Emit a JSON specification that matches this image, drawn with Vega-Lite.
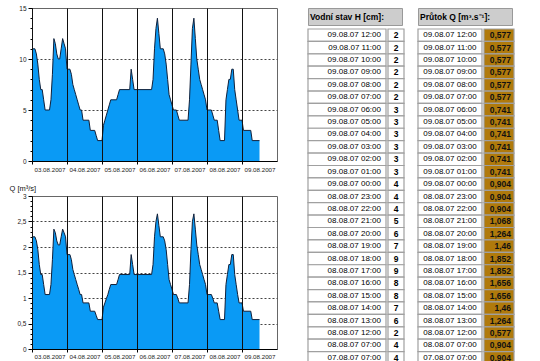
{
"$schema": "https://vega.github.io/schema/vega-lite/v6.json",
"background": "white",
"padding": {"left": 8, "top": 4, "right": 0, "bottom": 0},
"config": {
  "font": "Liberation Sans",
  "view": {"stroke": null},
  "locale": {"number": {"decimal": ",", "thousands": " ", "grouping": [3], "currency": ["", " Kč"]}},
  "axis": {"labelFont": "Liberation Sans", "labelFontSize": 7, "labelColor": "#222", "domainColor": "#000", "tickColor": "#000"}
},
"datasets": {
  "series": [
    {"d": "2007-08-03T00:00", "h": 11, "q": 2.2},
    {"d": "2007-08-03T02:00", "h": 11, "q": 2.2},
    {"d": "2007-08-03T03:00", "h": 10.5, "q": 2.12},
    {"d": "2007-08-03T04:00", "h": 9.5, "q": 1.95},
    {"d": "2007-08-03T05:00", "h": 8, "q": 1.656},
    {"d": "2007-08-03T06:00", "h": 7, "q": 1.46},
    {"d": "2007-08-03T07:00", "h": 7, "q": 1.46},
    {"d": "2007-08-03T08:00", "h": 6, "q": 1.264},
    {"d": "2007-08-03T09:00", "h": 5, "q": 1.068},
    {"d": "2007-08-03T12:00", "h": 5, "q": 1.068},
    {"d": "2007-08-03T13:00", "h": 6, "q": 1.264},
    {"d": "2007-08-03T14:00", "h": 8.5, "q": 1.75},
    {"d": "2007-08-03T15:00", "h": 12, "q": 2.35},
    {"d": "2007-08-03T16:00", "h": 11.5, "q": 2.28},
    {"d": "2007-08-03T17:00", "h": 10.5, "q": 2.12},
    {"d": "2007-08-03T18:00", "h": 10, "q": 2.04},
    {"d": "2007-08-03T19:00", "h": 10, "q": 2.04},
    {"d": "2007-08-03T20:00", "h": 11, "q": 2.2},
    {"d": "2007-08-03T21:00", "h": 12, "q": 2.35},
    {"d": "2007-08-03T22:00", "h": 11.5, "q": 2.28},
    {"d": "2007-08-03T23:00", "h": 11, "q": 2.2},
    {"d": "2007-08-04T00:00", "h": 9, "q": 1.852},
    {"d": "2007-08-04T02:00", "h": 9, "q": 1.852},
    {"d": "2007-08-04T03:00", "h": 8.5, "q": 1.75},
    {"d": "2007-08-04T04:00", "h": 7.5, "q": 1.56},
    {"d": "2007-08-04T05:00", "h": 7, "q": 1.46},
    {"d": "2007-08-04T06:00", "h": 6.5, "q": 1.36},
    {"d": "2007-08-04T07:00", "h": 6, "q": 1.264},
    {"d": "2007-08-04T08:00", "h": 5.5, "q": 1.17},
    {"d": "2007-08-04T09:00", "h": 5, "q": 1.068},
    {"d": "2007-08-04T10:00", "h": 5, "q": 1.068},
    {"d": "2007-08-04T11:00", "h": 4, "q": 0.904},
    {"d": "2007-08-04T15:00", "h": 4, "q": 0.904},
    {"d": "2007-08-04T16:00", "h": 3, "q": 0.741},
    {"d": "2007-08-04T19:00", "h": 3, "q": 0.741},
    {"d": "2007-08-04T20:00", "h": 2.5, "q": 0.66},
    {"d": "2007-08-04T21:00", "h": 2, "q": 0.577},
    {"d": "2007-08-05T00:00", "h": 2, "q": 0.577},
    {"d": "2007-08-05T01:00", "h": 3.5, "q": 0.82},
    {"d": "2007-08-05T02:00", "h": 4, "q": 0.904},
    {"d": "2007-08-05T03:00", "h": 4.5, "q": 0.99},
    {"d": "2007-08-05T04:00", "h": 5, "q": 1.068},
    {"d": "2007-08-05T05:00", "h": 5.5, "q": 1.17},
    {"d": "2007-08-05T06:00", "h": 6, "q": 1.264},
    {"d": "2007-08-05T10:00", "h": 6, "q": 1.264},
    {"d": "2007-08-05T11:00", "h": 6.5, "q": 1.36},
    {"d": "2007-08-05T12:00", "h": 7, "q": 1.46},
    {"d": "2007-08-05T19:00", "h": 7, "q": 1.46},
    {"d": "2007-08-05T20:00", "h": 9, "q": 1.852},
    {"d": "2007-08-05T21:00", "h": 8, "q": 1.656},
    {"d": "2007-08-05T22:00", "h": 7, "q": 1.46},
    {"d": "2007-08-06T10:00", "h": 7, "q": 1.46},
    {"d": "2007-08-06T11:00", "h": 8, "q": 1.656},
    {"d": "2007-08-06T12:00", "h": 11, "q": 2.2},
    {"d": "2007-08-06T13:00", "h": 13, "q": 2.5},
    {"d": "2007-08-06T14:00", "h": 14, "q": 2.65},
    {"d": "2007-08-06T15:00", "h": 12.5, "q": 2.42},
    {"d": "2007-08-06T16:00", "h": 11, "q": 2.2},
    {"d": "2007-08-06T18:00", "h": 11, "q": 2.2},
    {"d": "2007-08-06T19:00", "h": 10.5, "q": 2.12},
    {"d": "2007-08-06T20:00", "h": 9.5, "q": 1.95},
    {"d": "2007-08-06T21:00", "h": 8, "q": 1.656},
    {"d": "2007-08-06T22:00", "h": 6.5, "q": 1.36},
    {"d": "2007-08-06T23:00", "h": 6, "q": 1.264},
    {"d": "2007-08-07T00:00", "h": 5.5, "q": 1.17},
    {"d": "2007-08-07T01:00", "h": 5, "q": 1.068},
    {"d": "2007-08-07T03:00", "h": 5, "q": 1.068},
    {"d": "2007-08-07T04:00", "h": 4.5, "q": 0.99},
    {"d": "2007-08-07T05:00", "h": 4, "q": 0.904},
    {"d": "2007-08-07T11:00", "h": 4, "q": 0.904},
    {"d": "2007-08-07T12:00", "h": 6, "q": 1.264},
    {"d": "2007-08-07T13:00", "h": 9.5, "q": 1.95},
    {"d": "2007-08-07T14:00", "h": 13, "q": 2.5},
    {"d": "2007-08-07T15:00", "h": 14, "q": 2.65},
    {"d": "2007-08-07T16:00", "h": 12, "q": 2.35},
    {"d": "2007-08-07T17:00", "h": 10, "q": 2.04},
    {"d": "2007-08-07T18:00", "h": 9, "q": 1.852},
    {"d": "2007-08-07T19:00", "h": 8, "q": 1.656},
    {"d": "2007-08-07T20:00", "h": 7.5, "q": 1.56},
    {"d": "2007-08-07T21:00", "h": 7, "q": 1.46},
    {"d": "2007-08-07T22:00", "h": 6.5, "q": 1.36},
    {"d": "2007-08-07T23:00", "h": 6, "q": 1.264},
    {"d": "2007-08-08T00:00", "h": 5, "q": 1.068},
    {"d": "2007-08-08T03:00", "h": 5, "q": 1.068},
    {"d": "2007-08-08T04:00", "h": 4.5, "q": 0.99},
    {"d": "2007-08-08T05:00", "h": 4, "q": 0.904},
    {"d": "2007-08-08T07:00", "h": 4, "q": 0.904},
    {"d": "2007-08-08T08:00", "h": 3, "q": 0.741},
    {"d": "2007-08-08T09:00", "h": 2, "q": 0.577},
    {"d": "2007-08-08T12:00", "h": 2, "q": 0.577},
    {"d": "2007-08-08T13:00", "h": 6, "q": 1.264},
    {"d": "2007-08-08T14:00", "h": 7, "q": 1.46},
    {"d": "2007-08-08T15:00", "h": 8, "q": 1.656},
    {"d": "2007-08-08T16:00", "h": 8, "q": 1.656},
    {"d": "2007-08-08T17:00", "h": 9, "q": 1.852},
    {"d": "2007-08-08T18:00", "h": 9, "q": 1.852},
    {"d": "2007-08-08T19:00", "h": 7, "q": 1.46},
    {"d": "2007-08-08T20:00", "h": 6, "q": 1.264},
    {"d": "2007-08-08T21:00", "h": 5, "q": 1.068},
    {"d": "2007-08-08T22:00", "h": 4, "q": 0.904},
    {"d": "2007-08-09T00:00", "h": 4, "q": 0.904},
    {"d": "2007-08-09T01:00", "h": 3, "q": 0.741},
    {"d": "2007-08-09T06:00", "h": 3, "q": 0.741},
    {"d": "2007-08-09T07:00", "h": 2, "q": 0.577},
    {"d": "2007-08-09T12:00", "h": 2, "q": 0.577}
  ],
  "tbl": [
    {"t": "09.08.07 12:00", "h": 2, "q": 0.577},
    {"t": "09.08.07 11:00", "h": 2, "q": 0.577},
    {"t": "09.08.07 10:00", "h": 2, "q": 0.577},
    {"t": "09.08.07 09:00", "h": 2, "q": 0.577},
    {"t": "09.08.07 08:00", "h": 2, "q": 0.577},
    {"t": "09.08.07 07:00", "h": 2, "q": 0.577},
    {"t": "09.08.07 06:00", "h": 3, "q": 0.741},
    {"t": "09.08.07 05:00", "h": 3, "q": 0.741},
    {"t": "09.08.07 04:00", "h": 3, "q": 0.741},
    {"t": "09.08.07 03:00", "h": 3, "q": 0.741},
    {"t": "09.08.07 02:00", "h": 3, "q": 0.741},
    {"t": "09.08.07 01:00", "h": 3, "q": 0.741},
    {"t": "09.08.07 00:00", "h": 4, "q": 0.904},
    {"t": "08.08.07 23:00", "h": 4, "q": 0.904},
    {"t": "08.08.07 22:00", "h": 4, "q": 0.904},
    {"t": "08.08.07 21:00", "h": 5, "q": 1.068},
    {"t": "08.08.07 20:00", "h": 6, "q": 1.264},
    {"t": "08.08.07 19:00", "h": 7, "q": 1.46},
    {"t": "08.08.07 18:00", "h": 9, "q": 1.852},
    {"t": "08.08.07 17:00", "h": 9, "q": 1.852},
    {"t": "08.08.07 16:00", "h": 8, "q": 1.656},
    {"t": "08.08.07 15:00", "h": 8, "q": 1.656},
    {"t": "08.08.07 14:00", "h": 7, "q": 1.46},
    {"t": "08.08.07 13:00", "h": 6, "q": 1.264},
    {"t": "08.08.07 12:00", "h": 2, "q": 0.577},
    {"t": "08.08.07 07:00", "h": 4, "q": 0.904},
    {"t": "07.08.07 07:00", "h": 4, "q": 0.904}
  ]
},
"hconcat": [
  {
    "vconcat": [
      {
        "width": 245, "height": 153,
        "data": {"name": "series"},
        "view": {"stroke": "#666"},
        "mark": {"type": "area", "color": "#0a9af5", "opacity": 1, "line": {"color": "#10203a", "strokeWidth": 1}},
        "encoding": {
          "x": {"field": "d", "type": "temporal",
            "scale": {"domain": [{"year": 2007, "month": 8, "date": 3}, {"year": 2007, "month": 8, "date": 10}]},
            "axis": {"title": null, "values": [{"year": 2007, "month": 8, "date": 3}, {"year": 2007, "month": 8, "date": 4}, {"year": 2007, "month": 8, "date": 5}, {"year": 2007, "month": 8, "date": 6}, {"year": 2007, "month": 8, "date": 7}, {"year": 2007, "month": 8, "date": 8}, {"year": 2007, "month": 8, "date": 9}],
              "format": "%d.%m.%Y", "labelFontSize": 6.2, "labelOffset": 17.5, "tickSize": 3, "labelPadding": 2, "grid": true, "gridColor": "#111", "gridWidth": 1, "zindex": 1, "labelOverlap": false, "labelFlush": false}},
          "y": {"field": "h", "type": "quantitative",
            "scale": {"domain": [0, 15], "nice": false},
            "axis": {"title": null, "values": [0,1,2,3,4,5,6,7,8,9,10,11,12,13,14,15],
              "labelExpr": "datum.value % 5 === 0 ? datum.label : ''",
              "tickSize": {"condition": {"test": "datum.value % 5 === 0", "value": 4}, "value": 2},
              "labelPadding": 2, "labelFontSize": 6.5, "grid": true, "gridDash": [2, 2], "gridColor": "#444",
              "gridOpacity": {"condition": {"test": "datum.value % 5 === 0 && datum.value > 0 && datum.value < 15", "value": 1}, "value": 0}}}
        }
      },
      {
        "width": 245, "height": 153,
        "data": {"name": "series"},
        "view": {"stroke": "#666"},
        "mark": {"type": "area", "color": "#0a9af5", "opacity": 1, "line": {"color": "#10203a", "strokeWidth": 1}},
        "encoding": {
          "x": {"field": "d", "type": "temporal",
            "scale": {"domain": [{"year": 2007, "month": 8, "date": 3}, {"year": 2007, "month": 8, "date": 10}]},
            "axis": {"title": null, "values": [{"year": 2007, "month": 8, "date": 3}, {"year": 2007, "month": 8, "date": 4}, {"year": 2007, "month": 8, "date": 5}, {"year": 2007, "month": 8, "date": 6}, {"year": 2007, "month": 8, "date": 7}, {"year": 2007, "month": 8, "date": 8}, {"year": 2007, "month": 8, "date": 9}],
              "format": "%d.%m.%Y", "labelFontSize": 6.2, "labelOffset": 17.5, "tickSize": 3, "labelPadding": 1, "grid": true, "gridColor": "#111", "gridWidth": 1, "zindex": 1, "labelOverlap": false, "labelFlush": false}},
          "y": {"field": "q", "type": "quantitative",
            "scale": {"domain": [0, 3], "nice": false},
            "axis": {"title": "Q [m³/s]", "titleAngle": 0, "titleAlign": "left", "titleBaseline": "bottom", "titleX": -23, "titleY": -4, "titleFontSize": 7.5, "titleFontWeight": "normal", "titleColor": "#111",
              "values": [0,0.1,0.2,0.3,0.4,0.5,0.6,0.7,0.8,0.9,1,1.1,1.2,1.3,1.4,1.5,1.6,1.7,1.8,1.9,2,2.1,2.2,2.3,2.4,2.5,2.6,2.7,2.8,2.9,3],
              "format": ".1~f", "labelFontSize": 6.5,
              "labelExpr": "abs(datum.value*2 - round(datum.value*2)) < 0.001 ? datum.label : ''",
              "tickSize": {"condition": {"test": "abs(datum.value*2 - round(datum.value*2)) < 0.001", "value": 4}, "value": 2},
              "labelPadding": 2, "grid": true, "gridDash": [2, 2], "gridColor": "#444",
              "gridOpacity": {"condition": {"test": "abs(datum.value*2 - round(datum.value*2)) < 0.001 && datum.value > 0.1 && datum.value < 2.9", "value": 1}, "value": 0}}}
        }
      }
    ],
    "spacing": 10
  },
  {
    "hconcat": [
      {
        "vconcat": [
          {
            "width": 94, "height": 17,
            "view": {"fill": "#cdcdcd", "stroke": "#999"},
            "data": {"values": [{"h": "Vodní stav H [cm]:"}]},
            "mark": {"type": "text", "align": "left", "dx": -45, "fontWeight": "bold", "fontSize": 8.5, "color": "#000"},
            "encoding": {"text": {"field": "h"}}
          },
          {
            "hconcat": [
              {
                "width": 78, "height": 335,
                "data": {"name": "tbl"},
                "encoding": {"y": {"field": "t", "type": "ordinal", "sort": null, "axis": null, "scale": {"paddingInner": 0, "paddingOuter": 0}}},
                "layer": [
                  {"mark": {"type": "rect", "fill": "white", "stroke": "#a0a0a0", "strokeWidth": 1.2}},
                  {"mark": {"type": "text", "align": "right", "dx": 34, "fontSize": 8, "color": "#000"}, "encoding": {"text": {"field": "t"}}}
                ]
              },
              {
                "width": 16, "height": 335,
                "data": {"name": "tbl"},
                "encoding": {"y": {"field": "t", "type": "ordinal", "sort": null, "axis": null, "scale": {"paddingInner": 0, "paddingOuter": 0}}},
                "layer": [
                  {"mark": {"type": "rect", "fill": "white", "stroke": "#a0a0a0", "strokeWidth": 1.2}},
                  {"mark": {"type": "text", "align": "center", "fontSize": 8.5, "fontWeight": "bold", "color": "#000"}, "encoding": {"text": {"field": "h"}}}
                ]
              }
            ],
            "spacing": 0
          }
        ],
        "spacing": 2
      },
      {
        "vconcat": [
          {
            "width": 94, "height": 17,
            "view": {"fill": "#cdcdcd", "stroke": "#999"},
            "data": {"values": [{"h": "Průtok Q [m³.s⁻¹]:"}]},
            "mark": {"type": "text", "align": "left", "dx": -45, "fontWeight": "bold", "fontSize": 8.5, "color": "#000"},
            "encoding": {"text": {"field": "h"}}
          },
          {
            "hconcat": [
              {
                "width": 64, "height": 335,
                "data": {"name": "tbl"},
                "encoding": {"y": {"field": "t", "type": "ordinal", "sort": null, "axis": null, "scale": {"paddingInner": 0, "paddingOuter": 0}}},
                "layer": [
                  {"mark": {"type": "rect", "fill": "white", "stroke": "#a0a0a0", "strokeWidth": 1.2}},
                  {"mark": {"type": "text", "align": "center", "fontSize": 8, "color": "#000"}, "encoding": {"text": {"field": "t"}}}
                ]
              },
              {
                "width": 30, "height": 335,
                "data": {"name": "tbl"},
                "encoding": {"y": {"field": "t", "type": "ordinal", "sort": null, "axis": null, "scale": {"paddingInner": 0, "paddingOuter": 0}}},
                "layer": [
                  {"mark": {"type": "rect", "fill": "#b07a0c", "stroke": "#a0a0a0", "strokeWidth": 1.2}},
                  {"mark": {"type": "text", "align": "right", "dx": 12, "fontSize": 8.5, "fontWeight": "bold", "color": "#111"}, "encoding": {"text": {"field": "q", "type": "quantitative", "format": ".3~f"}}}
                ]
              }
            ],
            "spacing": 0
          }
        ],
        "spacing": 2
      }
    ],
    "spacing": 12
  }
],
"spacing": 29
}
